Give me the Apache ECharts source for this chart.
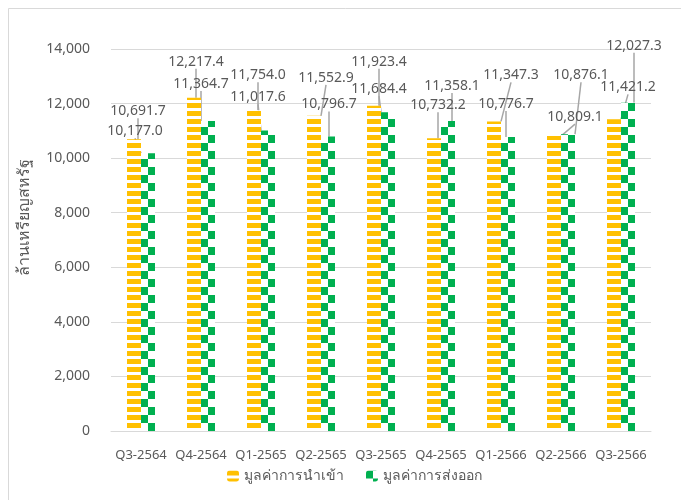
<!DOCTYPE html>
<html>
<head>
<meta charset="utf-8">
<script src="https://cdn.jsdelivr.net/npm/echarts@6/dist/echarts.min.js"></script>
<style>html,body{margin:0;padding:0;background:#fff}#c{width:681px;height:500px}</style>
</head>
<body>
<div id="c"></div>
<script>
const categories = ['Q3-2564','Q4-2564','Q1-2565','Q2-2565','Q3-2565','Q4-2565','Q1-2566','Q2-2566','Q3-2566'];
const importValues = [10691.7, 12217.4, 11754.0, 11552.9, 11923.4, 10732.2, 11347.3, 10809.1, 11421.2];
const exportValues = [10177.0, 11364.7, 11017.6, 10796.7, 11684.4, 11358.1, 10776.7, 10876.1, 12027.3];
const seriesNames = ['มูลค่าการนำเข้า', 'มูลค่าการส่งออก'];
const yTicks = [0, 2000, 4000, 6000, 8000, 10000, 12000, 14000];
const yTitle = 'ล้านเหรียญสหรัฐ';

// label displacement (px) relative to default 'top' position
const importLabelShift = [[4,-16],[2,-24],[4,-23],[12,-26],[5,-32],[4,-21],[17,-34],[21,-7],[14,-20]];
const exportLabelShift = [[-13,-10],[-7,-25],[-10,-21],[1,-20],[-9,-11],[4,-23],[-2,-21],[13,-47],[6,-45]];

const FONT = '"Noto Sans", "Liberation Sans", sans-serif';
const TXT = '#595959';

function stripePattern() {
  const c = document.createElement('canvas');
  c.width = 8; c.height = 8;
  const g = c.getContext('2d');
  g.fillStyle = '#ffffff'; g.fillRect(0,0,8,8);
  g.fillStyle = '#FFC000'; g.fillRect(0,0,8,5);
  return c;
}
function checkerPattern() {
  const c = document.createElement('canvas');
  c.width = 14; c.height = 16;
  const g = c.getContext('2d');
  g.fillStyle = '#ffffff'; g.fillRect(0,0,14,16);
  g.fillStyle = '#00B050';
  g.fillRect(0,0,7,8);
  g.fillRect(7,8,7,8);
  return c;
}
const stripeImg = stripePattern();
const checkerImg = checkerPattern();

const chart = echarts.init(document.getElementById('c'), null, {renderer:'canvas'});
const labelBase = {
  show: true, position: 'top', distance: 5,
  color: TXT, fontSize: 14, fontFamily: FONT,
  formatter: p => p.value.toLocaleString('en-US', {minimumFractionDigits:1, maximumFractionDigits:1})
};
function mkLayout(shift) {
  return function(params) {
    const s = shift[params.dataIndex];
    return { dx: s[0], dy: s[1] };
  };
}

chart.setOption({
  animation: false,
  backgroundColor: '#fff',
  grid: { left: 111, right: 30, top: 49, bottom: 69, containLabel: false },
  legend: {
    bottom: 12, left: 222,
    itemWidth: 12, itemHeight: 11, itemGap: 22,
    textStyle: { color: TXT, fontSize: 14, fontFamily: FONT },
    data: seriesNames
  },
  graphic: [
    { type: 'rect', shape: { x: 8.5, y: 8.5, width: 700, height: 520 }, style: { fill: 'none', stroke: '#d9d9d9', lineWidth: 1 }, silent: true },
    { type: 'text', x: 24, y: 217, rotation: Math.PI/2, style: { text: yTitle, fill: TXT, fontSize: 16, fontFamily: FONT, align: 'center', verticalAlign: 'middle' } }
  ],
  xAxis: {
    type: 'category', data: categories,
    axisLine: { lineStyle: { color: '#d9d9d9', width: 1 } },
    axisTick: { show: false },
    axisLabel: { color: TXT, fontSize: 13, fontFamily: FONT, margin: 18, interval: 0 }
  },
  yAxis: {
    type: 'value', min: yTicks[0], max: yTicks[yTicks.length-1], interval: 2000,
    axisLine: { show: false }, axisTick: { show: false },
    splitLine: { lineStyle: { color: '#d9d9d9', width: 1 } },
    axisLabel: { color: TXT, fontSize: 14, fontFamily: FONT, margin: 21,
      formatter: v => v.toLocaleString('en-US') }
  },
  series: [
    {
      name: seriesNames[0], type: 'bar', data: importValues,
      barWidth: 14, barGap: '0%',
      itemStyle: { color: { image: stripeImg, repeat: 'repeat' } },
      label: labelBase,
      labelLine: { show: true, lineStyle: { color: '#a6a6a6', width: 1.5 } },
      labelLayout: mkLayout(importLabelShift)
    },
    {
      name: seriesNames[1], type: 'bar', data: exportValues,
      barWidth: 14, barGap: '0%',
      itemStyle: { color: { image: checkerImg, repeat: 'repeat' } },
      label: labelBase,
      labelLine: { show: true, lineStyle: { color: '#a6a6a6', width: 1.5 } },
      labelLayout: mkLayout(exportLabelShift)
    }
  ]
});

// align each bar's pattern to its own left/bottom edge
function aligned(seriesIndex, values, img) {
  const data = chart.getModel().getSeriesByIndex(seriesIndex).getData();
  return values.map((v, i) => {
    const L = data.getItemLayout(i);
    return { value: v, itemStyle: { color: { image: img, repeat: 'repeat', x: Math.round(L.x), y: Math.round(L.y) } } };
  });
}
chart.setOption({
  series: [
    { data: aligned(0, importValues, stripeImg) },
    { data: aligned(1, exportValues, checkerImg) }
  ]
});
</script>
</body>
</html>
